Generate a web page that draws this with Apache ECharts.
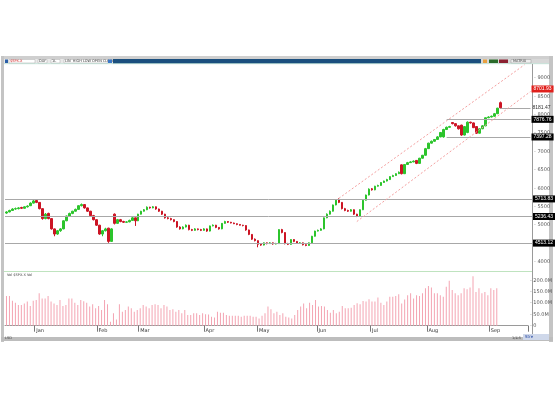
<!DOCTYPE html>
<html><head><meta charset="utf-8">
<script src="https://cdn.jsdelivr.net/npm/echarts/dist/echarts.min.js"></script>
<style>html,body{margin:0;padding:0;background:#fff}#c{width:555px;height:400px}</style>
</head><body><div id="c"></div>
<script>
// ---- data ----
const opens = [5330,5360,5400,5440,5450,5480,5460,5500,5530,5600,
5670,5620,5450,5180,5320,5180,4900,4760,4850,4900,
5120,5250,5320,5380,5430,5530,5560,5470,5380,5260,
5150,5000,4760,4850,4920,4560,5300,5050,5150,5100,
5080,5090,5130,5200,5120,5300,5380,5420,5490,5470,
5500,5440,5380,5300,5200,5180,5150,5100,4950,4900,
4950,5000,4880,4860,4900,4880,4860,4900,4840,4980,
5000,4940,4900,5050,5100,5080,5060,5040,5020,5000,
4990,4870,4750,4620,4580,4480,4460,4520,4500,4520,
4490,4500,4880,4800,4500,4480,4610,4560,4510,4520,
4470,4450,4520,4700,4840,4860,4900,5200,5300,5380,
5550,5700,5620,5450,5400,5380,5420,5300,5250,5420,
5680,5820,5990,5960,6060,6080,6160,6200,6240,6320,
6350,6400,6640,6400,6650,6700,6720,6760,6680,6820,
6900,7080,7230,7280,7330,7400,7400,7600,7660,7790,
7760,7700,7720,7450,7520,7800,7780,7680,7500,7620,
7700,7920,7940,7960,8030,8330];
const closes = [5360,5400,5440,5450,5470,5460,5500,5520,5600,5660,
5620,5450,5180,5300,5180,4900,4760,4850,4900,5120,
5250,5320,5380,5430,5530,5560,5470,5380,5260,5150,
5000,4760,4850,4900,4560,4900,5050,5150,5100,5080,
5090,5130,5200,5120,5300,5380,5420,5490,5470,5500,
5440,5380,5300,5200,5180,5150,5100,4950,4900,4950,
5000,4880,4860,4900,4880,4860,4900,4840,4980,5000,
4940,4900,5050,5100,5080,5060,5040,5020,5000,4990,
4870,4750,4620,4580,4480,4460,4520,4500,4520,4490,
4500,4880,4800,4500,4480,4610,4560,4510,4520,4470,
4450,4520,4700,4840,4860,4900,5200,5300,5380,5550,
5680,5620,5450,5400,5380,5420,5300,5250,5420,5680,
5820,5980,5960,6060,6080,6160,6200,6240,6320,6350,
6400,6440,6400,6650,6700,6720,6740,6680,6820,6900,
7080,7230,7280,7330,7400,7520,7600,7660,7680,7760,
7700,7620,7450,7680,7800,7780,7650,7500,7620,7700,
7920,7940,7960,8030,8180,8190];
const lows = [5310,5350,5390,5420,5430,5440,5450,5480,5520,5590,
5600,5430,5150,5160,5160,4880,4700,4740,4820,4890,
5110,5240,5300,5370,5420,5510,5450,5360,5250,5130,
4980,4740,4700,4830,4520,4550,5020,5040,5080,5060,
5060,5080,5120,4980,5110,5290,5370,5410,5450,5460,
5420,5360,5280,5180,5160,5130,5080,4930,4880,4890,
4940,4860,4840,4850,4860,4840,4850,4820,4830,4970,
4920,4880,4890,5040,5060,5050,5030,5000,4990,4970,
4850,4730,4600,4560,4400,4440,4450,4480,4490,4470,
4480,4490,4780,4480,4460,4470,4540,4490,4500,4450,
4430,4440,4510,4690,4830,4850,4890,5190,5290,5370,
5540,5600,5430,5380,5360,5370,5280,5220,5240,5410,
5670,5810,5940,5950,6050,6070,6150,6190,6230,6310,
6340,6390,6380,6390,6640,6690,6710,6660,6670,6810,
6890,7070,7220,7270,7320,7390,7380,7590,7650,7740,
7680,7600,7430,7440,7500,7760,7640,7480,7490,7610,
7690,7910,7930,7950,8020,8170];
const highs = [5380,5420,5460,5480,5490,5500,5510,5540,5620,5700,
5690,5630,5460,5330,5340,5190,4910,4870,4920,5130,
5260,5340,5390,5450,5540,5590,5570,5480,5390,5280,
5160,5010,4870,4930,4930,4920,5320,5170,5170,5120,
5110,5150,5220,5210,5310,5390,5440,5510,5500,5520,
5510,5450,5390,5310,5220,5200,5160,5110,4970,4970,
5020,5010,4900,4920,4910,4900,4920,4910,4990,5020,
5010,4950,5060,5120,5110,5090,5070,5050,5030,5010,
5000,4880,4760,4640,4590,4500,4530,4530,4540,4530,
4520,4890,4900,4810,4520,4620,4620,4570,4540,4530,
4480,4530,4710,4850,4880,4920,5210,5320,5400,5560,
5700,5730,5630,5470,5420,5440,5430,5310,5430,5690,
5830,6000,6010,6070,6100,6170,6210,6260,6330,6370,
6410,6460,6650,6660,6720,6740,6760,6770,6830,6910,
7100,7240,7300,7340,7420,7530,7620,7680,7700,7800,
7770,7710,7730,7690,7820,7810,7790,7690,7630,7720,
7930,7960,7980,8050,8190,8360];
const volumes = [132,132,111,102,92,92,99,107,88,111,
114,144,121,121,132,107,99,92,114,88,
92,121,121,102,92,114,109,102,85,95,
77,88,70,114,95,18,55,28,95,62,
70,85,77,62,70,77,92,85,77,92,
95,92,77,92,85,70,73,62,70,55,
70,
47,47,55,55,47,55,51,50,40,36,
62,58,58,47,44,44,44,44,40,44,
44,44,40,40,32,44,55,85,73,55,
62,47,55,40,36,32,47,70,85,99,
77,102,92,114,85,88,85,70,58,70,
55,62,88,77,77,80,92,100,95,110,
107,
118,107,107,125,102,92,107,128,128,132,
140,99,116,135,144,121,135,132,144,166,
176,170,144,144,135,128,173,200,159,144,
135,144,166,162,170,220,150,166,144,150,
135,166,159,166];
const slotCount = 176;
const monthLabels = ["Jan","Feb","Mar","Apr","May","Jun","Jul","Aug","Sep"];
const monthIdx = [10,31,45,67,85,105,123,142,163];
const priceTicks = [4000,4500,5000,5500,6000,6500,7000,7500,8000,8500,9000];
const volTicks = [0,50,100,150,200];
// horizontal levels (full width) with black tags
const levelValues = [5713.83,5236.43,4513.12];
// partial levels: [startIdx, value]
const partialLevels = [[147,7876.76],[147,7397.28]];
const lastLevel = [165,8181.47];
const lastTag = 8701.93;
// channel lines: [[idx,val],[idx,val]]
const channelUpper = [[111,5730],[173,9360]];
const channelLower = [[117,5100],[175,8633]];

// ---- build ----
const categories = [];
for (let i = 0; i < slotCount; i++) categories.push(String(i));
const candle = opens.map((o, i) => [o, closes[i], lows[i], highs[i]]);
const labelMap = {};
monthIdx.forEach((k, j) => labelMap[k] = monthLabels[j]);

function tag(v, bg, fg) {
  return {show:true, position:'end', distance:1, fontSize:5, color:fg||'#fff', backgroundColor:bg||'#000', padding:[1,2], formatter:v.toFixed(2)};
}
const grayLine = {color:'#a8a8a8', width:1, type:'solid'};
const mlData = [];
levelValues.forEach(v => mlData.push({yAxis:v, lineStyle:grayLine, label:tag(v)}));
partialLevels.forEach(p => mlData.push([{coord:[p[0], p[1]], lineStyle:grayLine, label:tag(p[1])}, {coord:[slotCount-1, p[1]]}]));
mlData.push([{coord:[lastLevel[0], lastLevel[1]], lineStyle:grayLine, label:{show:true, position:'end', distance:2, fontSize:5, color:'#333', formatter:lastLevel[1].toFixed(2)}}, {coord:[slotCount-1, lastLevel[1]]}]);
mlData.push([{coord:[slotCount-2, lastTag], lineStyle:{color:'rgba(255,255,255,0)', width:1}, label:tag(lastTag, '#e0201c', '#fff')}, {coord:[slotCount-1, lastTag]}]);
const chLine = {color:'#f4a0a0', width:1, type:[2,2]};
[channelUpper, channelLower].forEach(c => mlData.push([{coord:c[0], lineStyle:chLine, label:{show:false}}, {coord:c[1]}]));

const chart = echarts.init(document.getElementById('c'), null, {renderer:'canvas'});
chart.setOption({
  animation:false,
  backgroundColor:'#fff',
  grid:[
    {left:5, right:23, top:59.6, height:220.8},
    {left:5, right:23, top:269.4, height:56.3}
  ],
  xAxis:[
    {type:'category', gridIndex:0, data:categories, boundaryGap:true, show:false},
    {type:'category', gridIndex:1, data:categories, boundaryGap:true,
     axisLine:{show:true, lineStyle:{color:'#9a9a9a', width:1}},
     axisTick:{show:true, length:6, interval:(i)=>labelMap[i]!==undefined, lineStyle:{color:'#777'}},
     axisLabel:{show:true, interval:(i)=>labelMap[i]!==undefined, formatter:(v,i)=>labelMap[i]||'', fontSize:5, color:'#333', align:'left', margin:3, fontFamily:'DejaVu Sans'},
     splitLine:{show:false}}
  ],
  yAxis:[
    {type:'value', gridIndex:0, position:'right', min:3500, max:9500, interval:500,
     splitLine:{show:false}, axisLine:{show:false}, axisTick:{show:false},
     axisLabel:{fontSize:5, color:'#555', margin:2, fontFamily:'DejaVu Sans', formatter:v => priceTicks.indexOf(v)>=0 ? '- '+v : ''}},
    {type:'value', gridIndex:1, position:'right', min:0, max:250, interval:50,
     splitLine:{show:false}, axisLine:{show:false}, axisTick:{show:false},
     axisLabel:{fontSize:5, color:'#555', margin:2, fontFamily:'DejaVu Sans', formatter:v => volTicks.indexOf(v)>=0 ? (v===0?'- 0':'- '+v.toFixed(1)+'M') : ''}}
  ],
  series:[
    {type:'candlestick', xAxisIndex:0, yAxisIndex:0, data:candle, barWidth:2,
     itemStyle:{color:'#2cc42c', color0:'#cc1424', borderColor:'#2cc42c', borderColor0:'#cc1424', borderWidth:1},
     markLine:{silent:true, symbol:'none', animation:false, data:mlData}},
    {type:'bar', xAxisIndex:1, yAxisIndex:1, data:volumes, barWidth:1, itemStyle:{color:'#f4a4b2'}}
  ],
  graphic:[
    {type:'rect', shape:{x:1,y:56,width:552,height:3}, style:{fill:'#cfcfcf'}, silent:true},
    {type:'rect', shape:{x:1,y:56,width:3,height:286}, style:{fill:'#c4c4c4'}, silent:true},
    {type:'rect', shape:{x:549,y:56,width:4,height:286}, style:{fill:'#c4c4c4'}, silent:true},
    {type:'rect', shape:{x:4,y:59,width:110,height:4.5}, style:{fill:'#e9e9e9'}, silent:true},
    {type:'rect', shape:{x:5,y:59.5,width:3,height:3.5}, style:{fill:'#2a5ea8'}, silent:true},
    {type:'rect', shape:{x:9,y:59.5,width:26,height:3.5}, style:{fill:'#fff', stroke:'#aaa', lineWidth:0.5}, silent:true},
    {type:'text', style:{x:10,y:59.4,text:'$SPX.X',fontSize:3.5,fill:'#d02020',fontFamily:'DejaVu Sans'}, silent:true},
    {type:'rect', shape:{x:38,y:59.5,width:9,height:3.5}, style:{fill:'#fff', stroke:'#aaa', lineWidth:0.5}, silent:true},
    {type:'text', style:{x:39,y:59.4,text:'DAY',fontSize:3.5,fill:'#333',fontFamily:'DejaVu Sans'}, silent:true},
    {type:'rect', shape:{x:51,y:59.5,width:9,height:3.5}, style:{fill:'#fff', stroke:'#aaa', lineWidth:0.5}, silent:true},
    {type:'text', style:{x:52,y:59.4,text:'1L',fontSize:3.5,fill:'#333',fontFamily:'DejaVu Sans'}, silent:true},
    {type:'rect', shape:{x:64,y:59.5,width:44,height:3.5}, style:{fill:'#fff', stroke:'#aaa', lineWidth:0.5}, silent:true},
    {type:'text', style:{x:65,y:59.4,text:'LIN  HIGH LOW OPEN CLOSE',fontSize:3.5,fill:'#333',fontFamily:'DejaVu Sans'}, silent:true},
    {type:'rect', shape:{x:108,y:59.5,width:4,height:3.5}, style:{fill:'#3a78c8'}, silent:true},
    {type:'rect', shape:{x:113,y:59,width:368,height:4.5}, style:{fill:'#1b4f7e'}, silent:true},
    {type:'rect', shape:{x:481,y:59,width:68,height:4.5}, style:{fill:'#d8d8d8'}, silent:true},
    {type:'rect', shape:{x:483,y:59.5,width:4,height:3.5}, style:{fill:'#e8a040'}, silent:true},
    {type:'rect', shape:{x:489,y:59.5,width:9,height:3.5}, style:{fill:'#2a6a2a'}, silent:true},
    {type:'rect', shape:{x:499,y:59.5,width:9,height:3.5}, style:{fill:'#8a2030'}, silent:true},
    {type:'rect', shape:{x:511,y:59.5,width:20,height:3.5}, style:{fill:'#eee', stroke:'#999', lineWidth:0.5}, silent:true},
    {type:'text', style:{x:513,y:59.4,text:'MATRIX',fontSize:3.5,fill:'#333',fontFamily:'DejaVu Sans'}, silent:true},
    {type:'line', shape:{x1:4,y1:63.7,x2:549,y2:63.7}, style:{stroke:'#a8d8c8', lineWidth:0.6}, silent:true},
    {type:'line', shape:{x1:532.5,y1:64,x2:532.5,y2:337}, style:{stroke:'#9a9a9a', lineWidth:1}, silent:true},
    {type:'line', shape:{x1:4,y1:271.5,x2:532,y2:271.5}, style:{stroke:'#bfe3bf', lineWidth:1}, silent:true},
    {type:'text', style:{x:7,y:273,text:'Vol $SPX.X Vol',fontSize:3.5,fill:'#444',fontFamily:'DejaVu Sans'}, silent:true},
    {type:'rect', shape:{x:1,y:337,width:552,height:4}, style:{fill:'#bdbdbd'}, silent:true},
    {type:'text', style:{x:5,y:336.5,text:'LSD',fontSize:3.5,fill:'#444',fontFamily:'DejaVu Sans'}, silent:true},
    {type:'text', style:{x:512,y:336.5,text:'1/4:5',fontSize:3.5,fill:'#444',fontFamily:'DejaVu Sans'}, silent:true},
    {type:'rect', shape:{x:523,y:334,width:26,height:6}, style:{fill:'#cfd8ea'}, silent:true},
    {type:'text', style:{x:525,y:335,text:'Stre',fontSize:4,fill:'#1b3f9e',fontFamily:'DejaVu Sans'}, silent:true}
  ]
});
</script></body></html>
